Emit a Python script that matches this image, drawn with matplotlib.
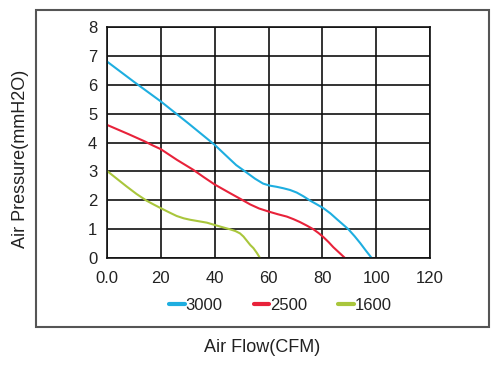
import matplotlib
matplotlib.use("Agg")
import matplotlib.pyplot as plt
from matplotlib.patches import Rectangle

plt.rcParams['font.family'] = ['Liberation Sans', 'DejaVu Sans']

# Data
flow_3000 = [0, 10, 20, 30, 40, 45.7, 48, 51.9, 55, 58, 60.5, 63, 65.5, 68, 70.5,
             73, 75.5, 78, 80.4, 83, 85.4, 87.5, 89.7, 92, 94.1, 96.2, 98.4]
pres_3000 = [6.80, 6.10, 5.42, 4.68, 3.92, 3.42, 3.22, 2.96, 2.75, 2.58, 2.51, 2.47,
             2.42, 2.36, 2.27, 2.14, 1.99, 1.86, 1.73, 1.55, 1.35, 1.18, 1.00, 0.76,
             0.52, 0.26, 0.0]

flow_2500 = [0, 8, 14, 17, 20, 26, 32, 36, 40, 45.7, 49.4, 53.2, 56.5, 60.2, 63.5,
             66.8, 69.3, 71.7, 74.2, 76.7, 78.6, 80.4, 82.3, 84.1, 86.3, 88.5]
pres_2500 = [4.61, 4.29, 4.04, 3.90, 3.77, 3.40, 3.06, 2.80, 2.55, 2.25, 2.06, 1.86,
             1.72, 1.61, 1.52, 1.44, 1.35, 1.25, 1.13, 1.00, 0.87, 0.73, 0.56, 0.38,
             0.19, 0.0]

flow_1600 = [0, 3.5, 7.3, 11, 14.7, 17.5, 20, 23, 25.9, 28.5, 30.9, 34, 37.1, 40, 43,
             45.7, 47.7, 49.4, 50.7, 52, 53.2, 54.4, 55.7, 56.9]
pres_1600 = [3.02, 2.76, 2.48, 2.22, 1.99, 1.85, 1.73, 1.59, 1.46, 1.38, 1.33, 1.28,
             1.23, 1.15, 1.07, 1.00, 0.94, 0.86, 0.75, 0.60, 0.46, 0.35, 0.18, 0.0]

series_labels = ['3000', '2500', '1600']
colors = ['#1eaee0', '#e8223a', '#a9c63c']

x_ticks = [0, 20, 40, 60, 80, 100, 120]
x_tick_labels = ['0.0', '20', '40', '60', '80', '100', '120']
y_ticks = [0, 1, 2, 3, 4, 5, 6, 7, 8]

text_color = '#222222'

fig = plt.figure(figsize=(5.0, 3.65), dpi=100)
ax = fig.add_axes([0.214, 0.2925, 0.646, 0.634])

# outer frame
fig.patches.append(Rectangle((36/500, 1-327/365), (489-36)/500, (327-10)/365,
                             transform=fig.transFigure, fill=False,
                             edgecolor='#555555', linewidth=1.5, zorder=0))

for fx, py, lab, c in zip([flow_3000, flow_2500, flow_1600],
                          [pres_3000, pres_2500, pres_1600],
                          series_labels, colors):
    ax.plot(fx, py, color=c, linewidth=1.5, label=lab, solid_capstyle='round',
            solid_joinstyle='round')

ax.set_xlim(0, 120)
ax.set_ylim(0, 8)
ax.set_xticks(x_ticks)
ax.set_xticklabels(x_tick_labels)
ax.set_yticks(y_ticks)
ax.grid(True, color='#111111', linewidth=1.2)
ax.set_axisbelow(True)
for s in ax.spines.values():
    s.set_color('#111111')
    s.set_linewidth(1.2)
ax.tick_params(axis='both', length=0, labelsize=12, colors=text_color)
ax.tick_params(axis='y', pad=7)
ax.tick_params(axis='x', pad=9)

fig.text(21/500, 1-159/365, 'Air Pressure(mmH2O)', rotation=90, ha='center',
         va='center', fontsize=13, color=text_color)
fig.text(262.5/500, 1-348/365, 'Air Flow(CFM)', ha='center', va='center',
         fontsize=13, color=text_color)

leg = fig.legend(loc='center', bbox_to_anchor=(280.5/500, 1-305.7/365), ncol=3,
                 frameon=False, fontsize=12, handlelength=0.95, handletextpad=0.05,
                 columnspacing=1.85, labelcolor=text_color)
for h in leg.get_lines():
    h.set_linewidth(3)

fig.savefig('out.png', dpi=100)
